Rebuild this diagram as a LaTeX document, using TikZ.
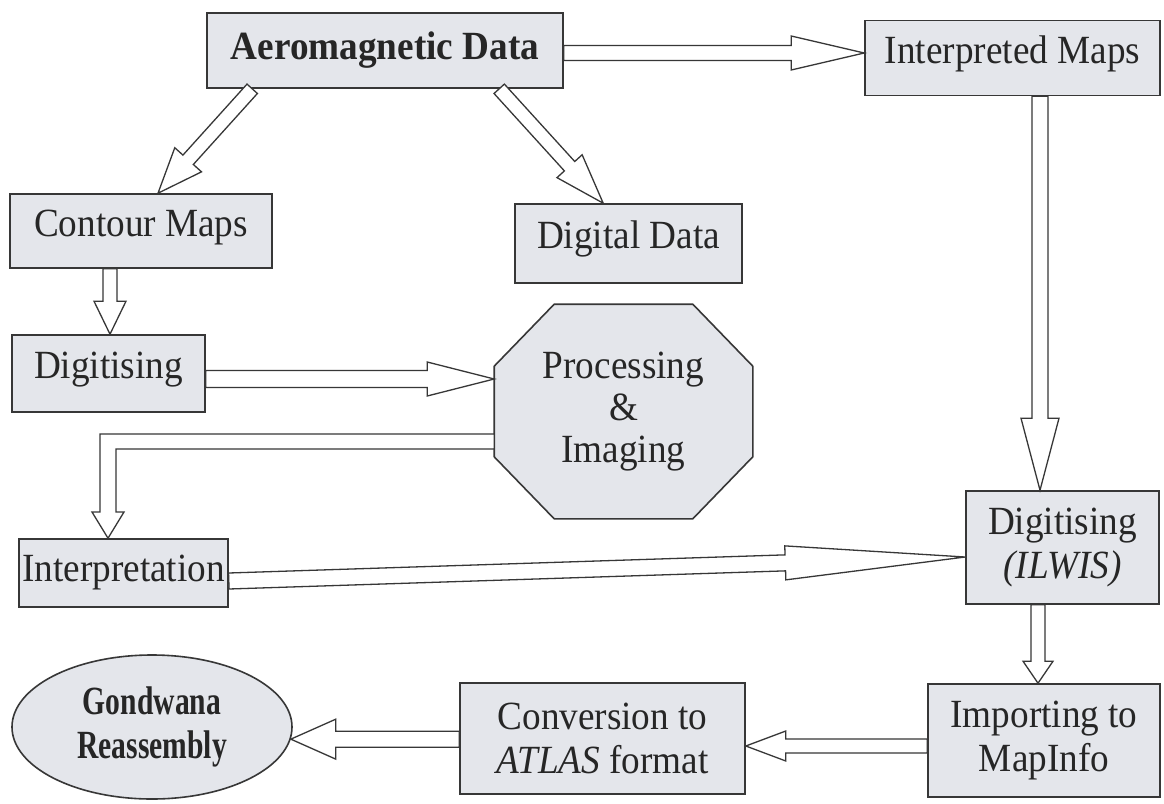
\documentclass[tikz,border=0pt]{standalone}
\usepackage{fontspec}
\setmainfont{Liberation Serif}[FakeStretch=0.93]
\newfontfamily\narrowbold{Liberation Serif}[FakeStretch=0.74, UprightFont=*-Bold]
\usetikzlibrary{calc,shapes.geometric,backgrounds}
\definecolor{boxfill}{RGB}{228,230,235}
\definecolor{ink}{RGB}{55,55,55}
\tikzset{
  box/.style={draw=ink, fill=boxfill, line width=1.6pt, inner sep=0pt,
    align=center, font=\fontsize{40}{44}\selectfont, text=black!85},
  upper/.style={text height=24pt, text depth=14pt},
  octo/.style={draw=ink, fill=boxfill, line width=1.6pt, line join=miter},
  hollow/.style={draw=ink, fill=white, line width=1.3pt, line join=miter},
}
% hollow block arrow: from, to, shaft half-width, head half-width, head length
\newcommand{\fatarrow}[5]{%
  \coordinate (fa-base) at ($(#2)!#5!(#1)$);
  \draw[hollow] ($(#1)!#3!90:(#2)$) -- ($(fa-base)!#3!90:(#2)$)
    -- ($(fa-base)!#4!90:(#2)$) -- (#2) -- ($(fa-base)!#4!-90:(#2)$)
    -- ($(fa-base)!#3!-90:(#2)$) -- ($(#1)!#3!-90:(#2)$) -- cycle;
}
\begin{document}
\begin{tikzpicture}[x=1pt,y=-1pt]
\useasboundingbox (0,0) rectangle (1164,803);

% boxes
\node[box, minimum width=356pt, minimum height=75pt] (aero) at (385,50.5) {\textbf{Aeromagnetic Data}};
\node[box, upper, minimum width=295pt, minimum height=75pt] (interp) at (1012.5,58) {Interpreted Maps};
\node[box, upper, minimum width=262pt, minimum height=74pt] (contour) at (141,231) {Contour Maps};
\node[box, upper, minimum width=227pt, minimum height=79pt] (digital) at (628.5,243.5) {Digital Data};
\node[box, upper, minimum width=193pt, minimum height=77pt] (dig1) at (108.5,373.5) {Digitising};
\node[box, minimum width=209pt, minimum height=68pt] (interpret) at (123.5,573) {Interpretation};
\node[box, minimum width=193pt, minimum height=113pt] (ilwis) at (1062.5,547.5) {Digitising\\\textit{(ILWIS)}};
\node[box, minimum width=232pt, minimum height=113pt] (import) at (1044,740.5) {Importing to\\MapInfo};
\node[box, minimum width=285pt, minimum height=111pt] (conv) at (602.5,738.5) {Conversion to\\\textit{ATLAS} format};
\node[box, ellipse, minimum width=280pt, minimum height=144pt, font=\fontsize{40}{44}\narrowbold] (gond) at (152,727) {Gondwana\\Reassembly};

% octagon for processing
\node[box, draw=none, fill=none, minimum width=257pt, minimum height=213pt, font=\fontsize{40}{42}\selectfont] (proc) at (623.5,411.5) {Processing\\\&\\Imaging};
\begin{pgfonlayer}{background}
\fill[white] (0,0) rectangle (1164,803);
\draw[octo] ($(proc.north west)+(60,0)$) -- ($(proc.north east)+(-60,0)$)
  -- ($(proc.north east)+(0,62)$) -- ($(proc.south east)+(0,-62)$)
  -- ($(proc.south east)+(-60,0)$) -- ($(proc.south west)+(60,0)$)
  -- ($(proc.south west)+(0,-62)$) -- ($(proc.north west)+(0,62)$) -- cycle;
\end{pgfonlayer}

% connector end points
\coordinate (a1s) at (aero.east |- 0,53);
\coordinate (a1e) at (interp.west |- 0,53);
\coordinate (a2s) at ($(aero.south west)+(46,0)$);
\coordinate (a2e) at ($(contour.north)+(17,0)$);
\coordinate (a3s) at ($(aero.south west)+(293,0)$);
\coordinate (a3e) at ($(digital.north west)+(89,0)$);
\coordinate (a4s) at (interp.south -| 1040,0);
\coordinate (a4e) at (ilwis.north -| 1040,0);
\coordinate (a5s) at (contour.south -| 110,0);
\coordinate (a5e) at (dig1.north -| 110,0);
\coordinate (a6s) at (dig1.east |- 0,379);
\coordinate (a6e) at (proc.west |- 0,379);
\coordinate (a8s) at (interpret.east |- 0,581);
\coordinate (a8e) at (ilwis.west |- 0,557);
\coordinate (a9s) at (ilwis.south -| 1038,0);
\coordinate (a9e) at (import.north -| 1038,0);
\coordinate (a10s) at (import.west |- 0,746);
\coordinate (a10e) at (conv.east |- 0,746);
\coordinate (a11e) at (gond.-5);
\coordinate (a11s) at (conv.west |- a11e);

% connectors
\fatarrow{a1s}{a1e}{7.5pt}{17pt}{73pt}
\fatarrow{a2s}{a2e}{7pt}{18pt}{45pt}
\fatarrow{a3s}{a3e}{7pt}{17pt}{50pt}
\fatarrow{a4s}{a4e}{8pt}{19pt}{72pt}
\fatarrow{a5s}{a5e}{7pt}{16pt}{33pt}
\fatarrow{a6s}{a6e}{8.5pt}{17pt}{67pt}
\fatarrow{a8s}{a8e}{8pt}{17pt}{180pt}
\fatarrow{a9s}{a9e}{7pt}{15pt}{22pt}
\fatarrow{a10s}{a10e}{7pt}{15pt}{40pt}
\fatarrow{a11s}{a11e}{8pt}{20pt}{45pt}

% elbow connector from processing down to interpretation
\draw[hollow] (proc.west |- 0,434) -- (100,434) -- (100,512) -- (92,512)
  -- (interpret.north -| 108,0) -- (124,512) -- (116,512) -- (116,449)
  -- (proc.west |- 0,449) -- cycle;
\end{tikzpicture}
\end{document}
